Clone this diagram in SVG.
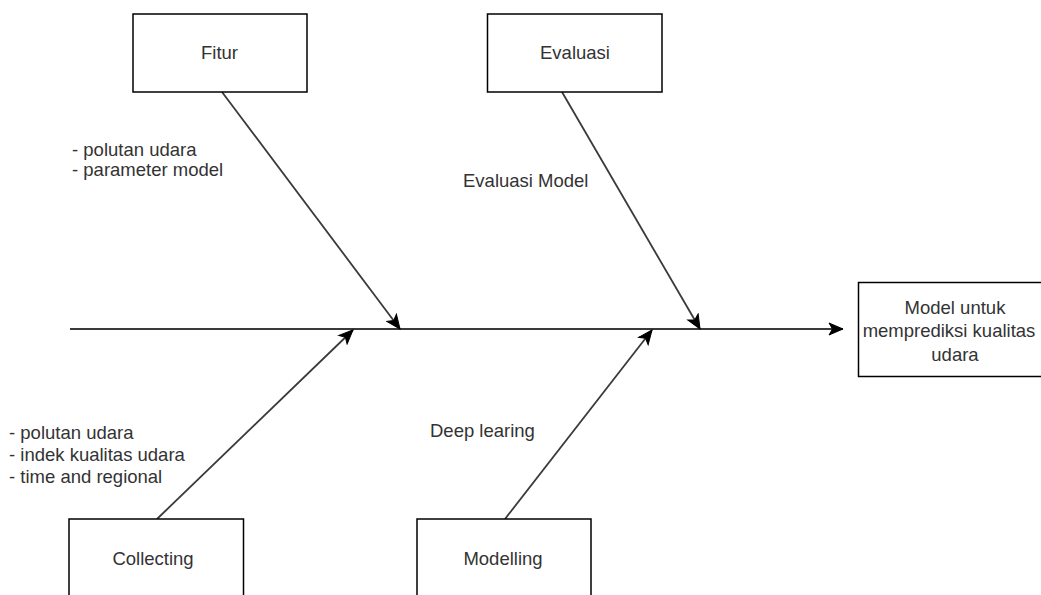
<svg xmlns="http://www.w3.org/2000/svg" width="1041" height="595" viewBox="0 0 1041 595">
<defs>
<style>
.box{fill:#fff;stroke:#000;stroke-width:1.5}
.lbl{font-family:"Liberation Sans",Arial,sans-serif;font-size:18.5px;fill:#333}
.c{text-anchor:middle}
.edge{fill:none;stroke:#3a3a3a;stroke-width:1.8}
</style>
<marker id="arr" markerUnits="userSpaceOnUse" markerWidth="16" markerHeight="14" viewBox="0 0 16 14" refX="15" refY="7" orient="auto">
<path d="M1,1 L15,7 L1,13 L4.5,7 Z" fill="#000" stroke="#000" stroke-width="1"/>
</marker>
</defs>
<rect width="1041" height="595" fill="#fff"/>
<g id="connectors">
<line class="edge" x1="70" y1="329" x2="843" y2="329" marker-end="url(#arr)"/>
<line class="edge" x1="222" y1="92" x2="400" y2="329" marker-end="url(#arr)"/>
<line class="edge" x1="562" y1="92" x2="700" y2="329" marker-end="url(#arr)"/>
<line class="edge" x1="157" y1="519" x2="353" y2="330" marker-end="url(#arr)"/>
<line class="edge" x1="505" y1="519" x2="652" y2="330" marker-end="url(#arr)"/>
</g>
<g id="fitur">
<rect class="box" x="133" y="14" width="174" height="78"/>
<text class="lbl c" x="219.5" y="59">Fitur</text>
</g>
<g id="evaluasi">
<rect class="box" x="487.5" y="14" width="174.5" height="78"/>
<text class="lbl c" x="575" y="59">Evaluasi</text>
</g>
<g id="output">
<rect class="box" x="858.5" y="282.5" width="194" height="94"/>
<text class="lbl c" x="955" y="313.5">Model untuk</text>
<text class="lbl c" x="949" y="337">memprediksi kualitas</text>
<text class="lbl c" x="955" y="360.5">udara</text>
</g>
<g id="collecting">
<rect class="box" x="69" y="519" width="174.5" height="90"/>
<text class="lbl c" x="153" y="565">Collecting</text>
</g>
<g id="modelling">
<rect class="box" x="417" y="519" width="174" height="90"/>
<text class="lbl c" x="503" y="565">Modelling</text>
</g>
<g id="label-fitur">
<text class="lbl" x="72" y="156">- polutan udara</text>
<text class="lbl" x="72" y="176">- parameter model</text>
</g>
<g id="label-evaluasi">
<text class="lbl" x="463" y="187">Evaluasi Model</text>
</g>
<g id="label-collecting">
<text class="lbl" x="9" y="439">- polutan udara</text>
<text class="lbl" x="9" y="461">- indek kualitas udara</text>
<text class="lbl" x="9" y="483">- time and regional</text>
</g>
<g id="label-modelling">
<text class="lbl" x="430" y="437">Deep learing</text>
</g>
</svg>
